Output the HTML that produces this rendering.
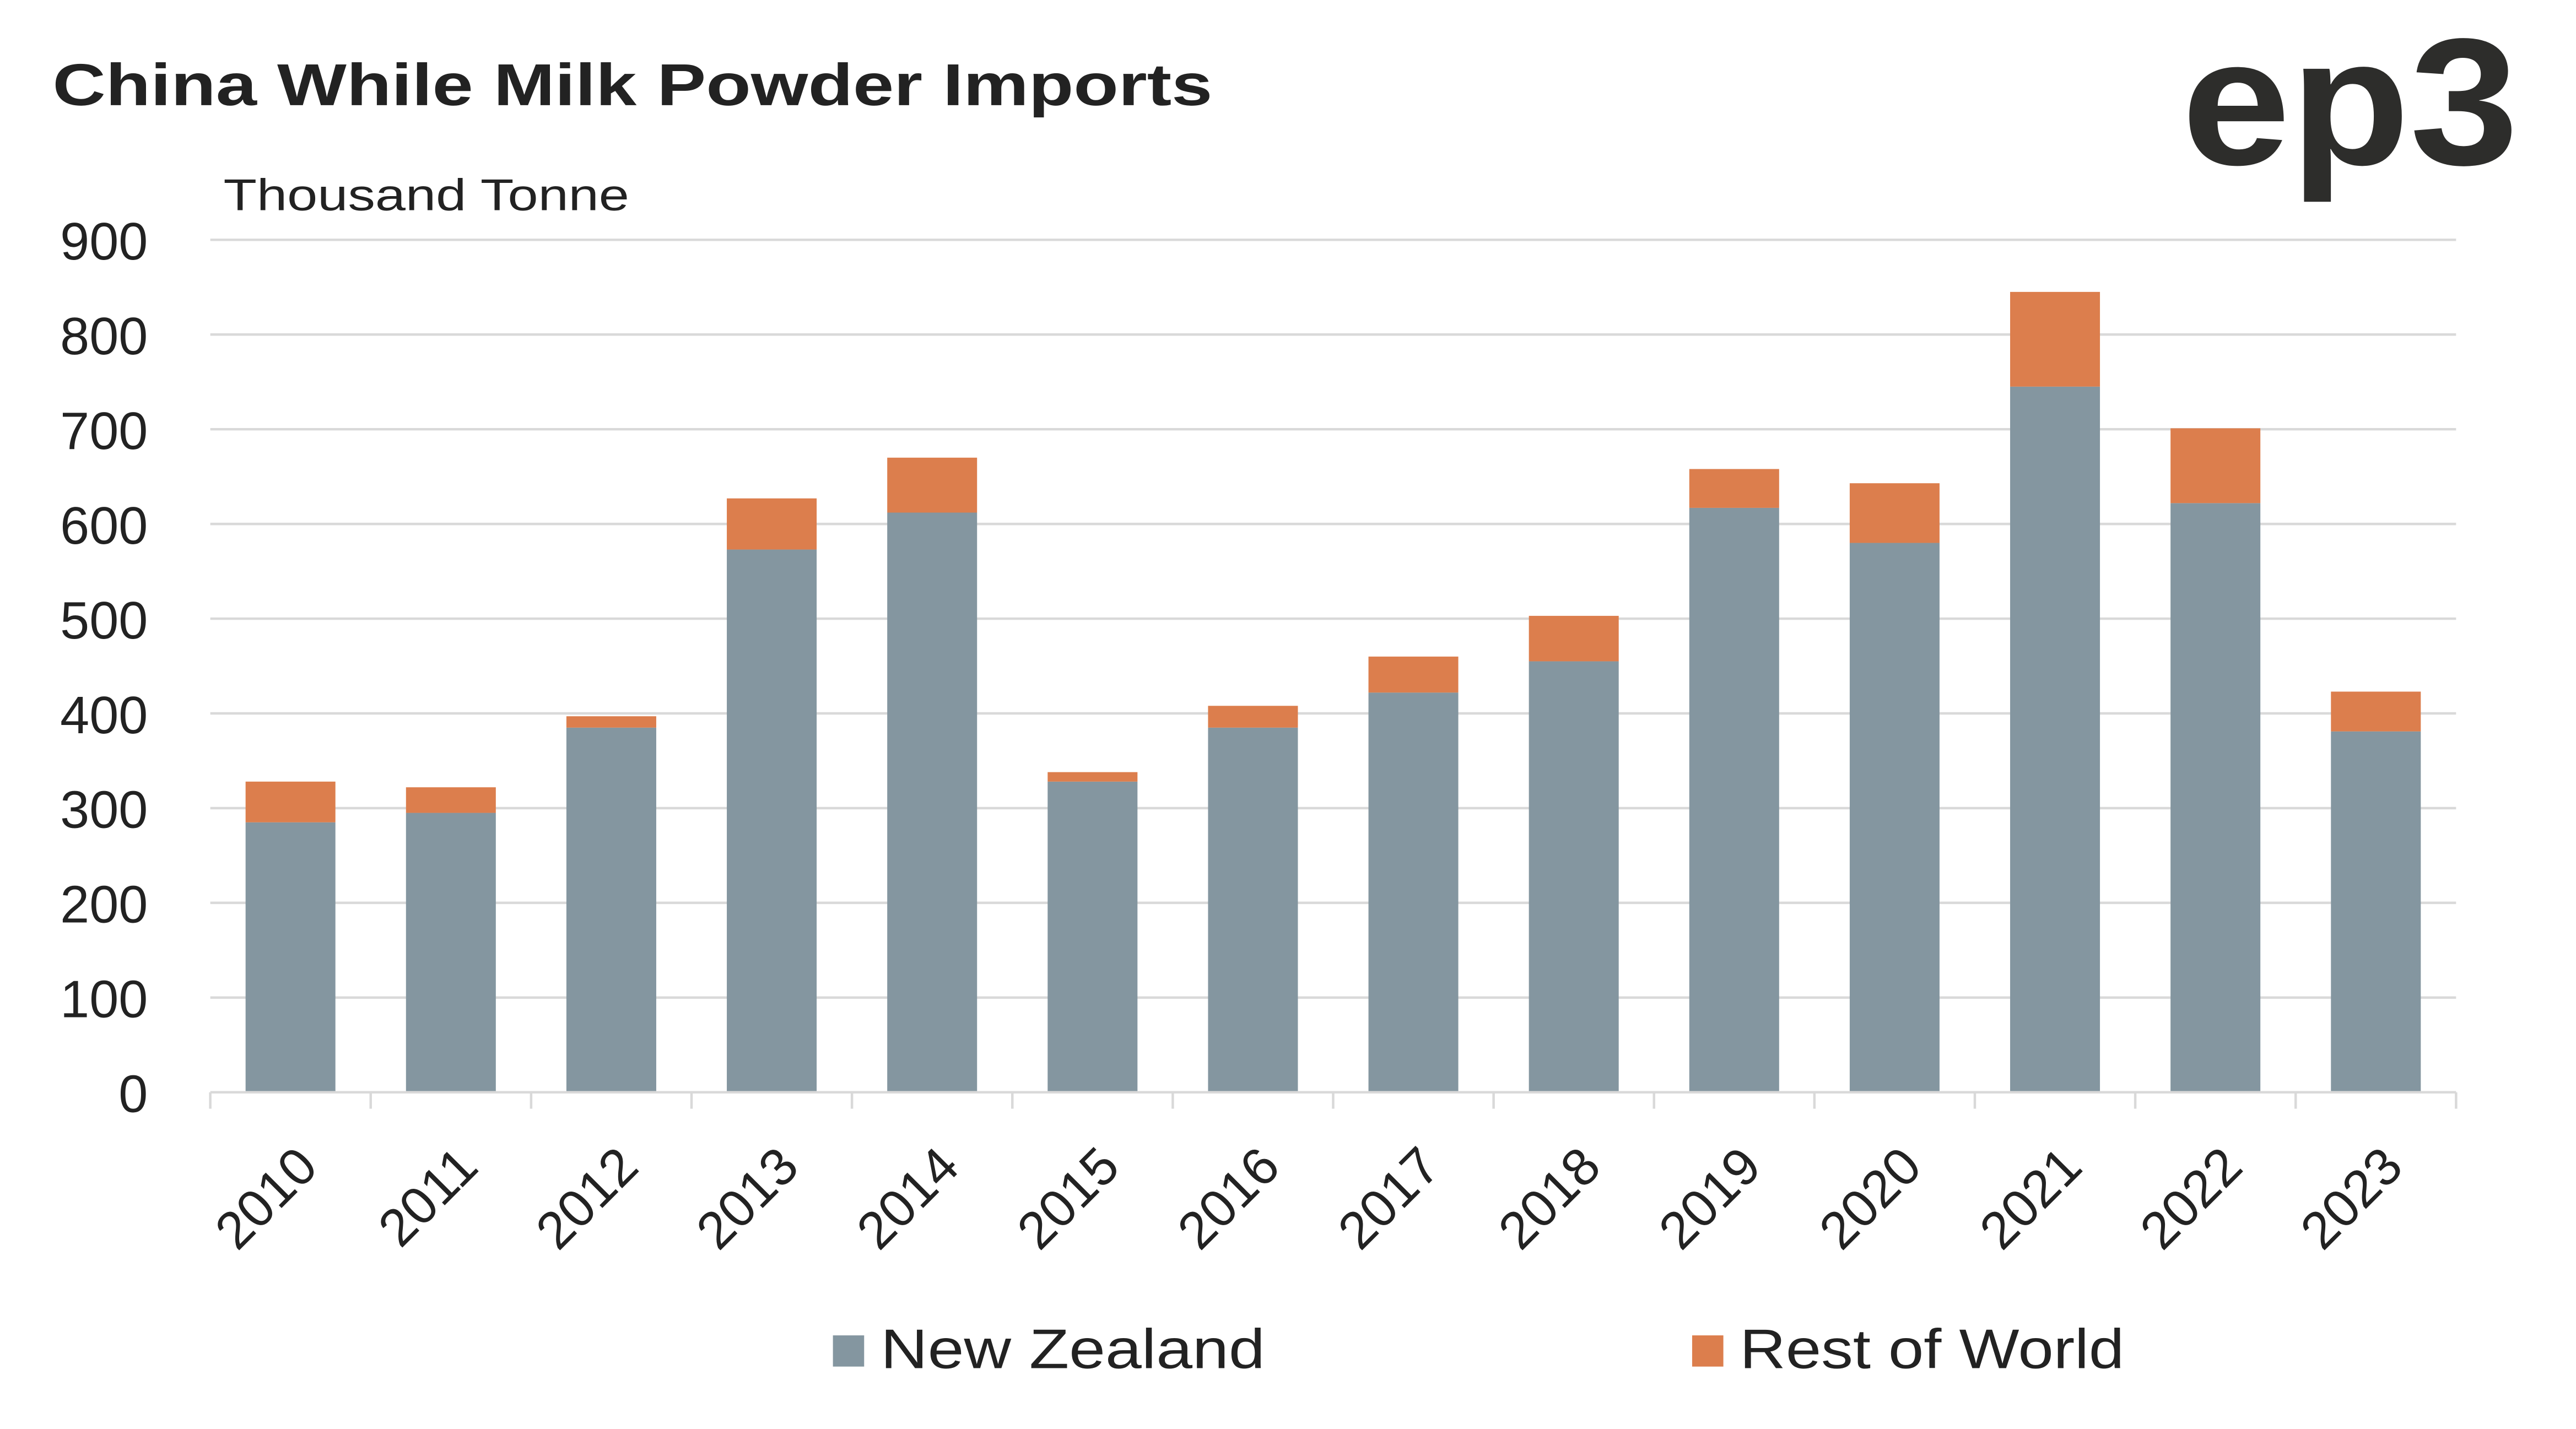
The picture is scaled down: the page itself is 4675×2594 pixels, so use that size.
<!DOCTYPE html>
<html><head><meta charset="utf-8"><style>
html,body{margin:0;padding:0;background:#fff}
svg{display:block}
text{font-family:"Liberation Sans",sans-serif;fill:#222}
</style></head><body>
<svg id="chart" width="4675" height="2594" viewBox="0 0 1568 870" preserveAspectRatio="none" xmlns="http://www.w3.org/2000/svg">
<rect width="1568" height="870" fill="#fff"/>
<text x="32" y="64" font-size="36" font-weight="bold" textLength="706" lengthAdjust="spacingAndGlyphs" fill="#222">China While Milk Powder Imports</text>
<text x="1328" y="100" font-size="110" font-weight="bold" textLength="205" lengthAdjust="spacingAndGlyphs" style="fill:#2d2d2b">ep3</text>
<text x="136" y="128" font-size="27" textLength="247" lengthAdjust="spacingAndGlyphs">Thousand Tonne</text>
<g id="grid"></g>
<g id="bars"></g>
<g id="axis"></g>
<g>
<rect x="507" y="813" width="19" height="19" fill="#8496a0"/>
<text x="536" y="833" font-size="34" textLength="234" lengthAdjust="spacingAndGlyphs">New Zealand</text>
<rect x="1030" y="813" width="19" height="19" fill="#dc7e4d"/>
<text x="1059" y="833" font-size="34" textLength="234" lengthAdjust="spacingAndGlyphs">Rest of World</text>
</g>
</svg>
<script>
const categories=["2010","2011","2012","2013","2014","2015","2016","2017","2018","2019","2020","2021","2022","2023"];
const nzValues=[285,295,385,573,612,328,385,422,455,617,580,745,622,381];
const rowValues=[43,27,12,54,58,10,23,38,48,41,63,100,79,42];
const yTicks=[0,100,200,300,400,500,600,700,800,900];
const NS="http://www.w3.org/2000/svg";
const x0=128,x1=1495,yBase=665,yTop=146,yMax=900;
const step=(x1-x0)/categories.length, bw=step*0.56;
const y=v=>yBase-(v/yMax)*(yBase-yTop);
const xc=i=>x0+step*(i+0.5);
function mk(tag,attrs,parent){const e=document.createElementNS(NS,tag);for(const k in attrs)e.setAttribute(k,attrs[k]);parent.appendChild(e);return e;}
const grid=document.getElementById('grid'),bars=document.getElementById('bars'),axis=document.getElementById('axis');
yTicks.forEach(t=>{
 if(t>0){const l=mk('line',{x1:x0,x2:x1,y1:y(t),y2:y(t),stroke:'#d9d9d9','stroke-width':1.5},grid);
 
 }
 const tx=mk('text',{x:90,y:y(t)+12,'font-size':32,'text-anchor':'end'},axis);
 tx.textContent=t;
 
 
});
const base=mk('line',{x1:x0,x2:x1,y1:yBase,y2:yBase,stroke:'#d9d9d9','stroke-width':1.5},axis);


for(let i=0;i<=categories.length;i++){
 const tk=mk('line',{x1:x0+step*i,x2:x0+step*i,y1:yBase,y2:yBase+10,stroke:'#d9d9d9','stroke-width':1.5},axis);
 
 
}
categories.forEach((c,i)=>{
 const nz=nzValues[i],rw=rowValues[i];
 const b1=mk('rect',{x:xc(i)-bw/2,y:y(nz),width:bw,height:yBase-y(nz),fill:'#8496a0'},bars);
 
 
 const b2=mk('rect',{x:xc(i)-bw/2,y:y(nz+rw),width:bw,height:y(nz)-y(nz+rw),fill:'#dc7e4d'},bars);
 
 
 const cx=xc(i)+18, cy=712;
 const lb=mk('text',{x:cx,y:cy,'font-size':32,'text-anchor':'end',transform:`rotate(-45 ${cx} ${cy})`},axis);
 lb.textContent=c;
 
 
});
</script>
</body></html>
